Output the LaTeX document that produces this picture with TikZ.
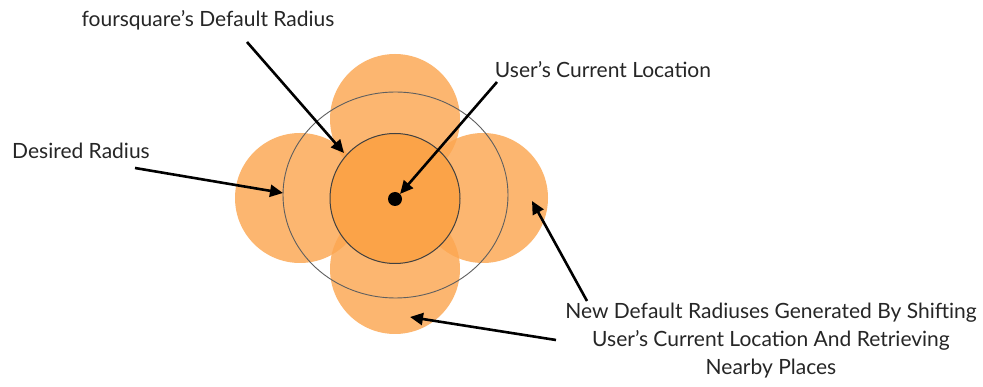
\documentclass[tikz,border=0pt]{standalone}
\usepackage{fontspec}
\setmainfont{Lato}
\usetikzlibrary{arrows.meta}
\definecolor{petal}{RGB}{252,167,81}
\definecolor{core}{RGB}{251,163,72}
\definecolor{ring}{RGB}{95,95,95}
\tikzset{
  petalcircle/.style={fill=petal,fill opacity=0.82,draw=none},
  pointer/.style={line width=2.6pt,-{Triangle[length=13pt,width=12pt]},shorten >=0pt},
  lbl/.style={font=\fontsize{21}{28}\selectfont,text=black!85,inner sep=0pt,align=center}
}
\begin{document}
\begin{tikzpicture}[x=1pt,y=-1pt]
\useasboundingbox (0,0) rectangle (983,387);
\fill[white] (0,0) rectangle (983,387);

% shifted search areas around the user
\fill[petalcircle] (395,119) circle[radius=65];
\fill[petalcircle] (300,198) circle[radius=65];
\fill[petalcircle] (483,198) circle[radius=65];
\fill[petalcircle] (395,269) circle[radius=65];

% default radius around the user
\fill[core] (395,198.5) circle[radius=65];
\draw[line width=1pt,draw=black!75] (395,198.5) circle[radius=65];

% desired radius
\draw[line width=0.9pt,draw=ring] (395.5,195) ellipse[x radius=112.5,y radius=103];

% the user
\node[circle,fill=black,inner sep=0pt,minimum size=14pt] (user) at (395,199) {};

% labels
\node[lbl] (fs) at (208,20) {foursquare’s Default Radius};
\node[lbl] (cur) at (603,70) {User’s Current Location};
\node[lbl] (des) at (81,151) {Desired Radius};
\node[lbl] (shift) at (771,341) {New Default Radiuses Generated By Shifting\\User’s Current Location And Retrieving\\Nearby Places};

% arrow ends
\coordinate (fsA) at (247,42);
\coordinate (fsB) at (344,153);
\coordinate (curA) at (497,82);
\coordinate (desA) at (135,168);
\coordinate (desB) at (283,193);
\coordinate (rA) at (587,301);
\coordinate (rB) at (532,201);
\coordinate (bA) at (556,340);
\coordinate (bB) at (410,317);

\draw[pointer] (fsA) -- (fsB);
\draw[pointer] (curA) -- (user.north east);
\draw[pointer] (desA) -- (desB);
\draw[pointer] (rA) -- (rB);
\draw[pointer] (bA) -- (bB);
\end{tikzpicture}
\end{document}
